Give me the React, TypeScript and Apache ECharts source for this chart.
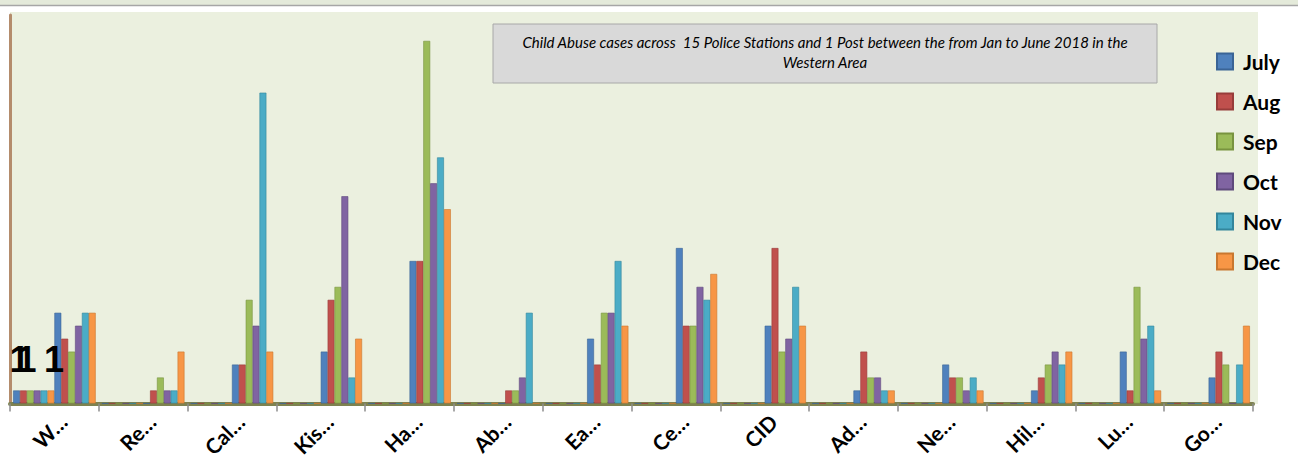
import React, { useEffect, useRef } from "react";
import * as echarts from "echarts";

const categories = ["W…", "Re…", "Cal…", "Kis…", "Ha…", "Ab…", "Ea…", "Ce…", "CID", "Ad…", "Ne…", "Hil…", "Lu…", "Go…"];
const legendNames = ["July", "Aug", "Sep", "Oct", "Nov", "Dec"];
const july = [7, 0, 3, 4, 11, 0, 5, 12, 6, 1, 3, 1, 4, 2];
const aug = [5, 1, 3, 8, 11, 1, 3, 6, 12, 4, 2, 2, 1, 4];
const sep = [4, 2, 8, 9, 28, 1, 7, 6, 4, 2, 2, 3, 9, 3];
const oct = [6, 1, 6, 16, 17, 2, 7, 9, 5, 2, 1, 4, 5, 0];
const nov = [7, 1, 24, 2, 19, 7, 11, 8, 9, 1, 2, 3, 6, 3];
const dec = [7, 4, 4, 5, 15, 0, 6, 10, 6, 1, 1, 4, 1, 6];
// earlier series (not in legend) only present in the first category
const hiddenNames = ["Jan", "Feb", "Mar", "Apr", "May", "Jun"];
const hiddenFirst = [1, 1, 1, 1, 1, 1];
const labeledHidden = [0, 1, 5];
const titleLines = [
  "Child Abuse cases across  15 Police Stations and 1 Post between the from Jan to June 2018 in the",
  "Western Area",
];
const colors = ["#4F81BD", "#C0504D", "#9BBB59", "#8064A2", "#4BACC6", "#F79646"];
const borders = ["#3A6496", "#983C3A", "#78933F", "#5F4A7C", "#33869C", "#C9772F"];

export default function App() {
  const ref = useRef<HTMLDivElement>(null);
  useEffect(() => {
    if (!ref.current) return;
    const chart = echarts.init(ref.current, undefined, { renderer: "svg" });
    const monthData = [july, aug, sep, oct, nov, dec];
    const series: any[] = [];
    hiddenNames.forEach((n, i) => {
      const data = categories.map((_, ci) => (ci === 0 ? hiddenFirst[i] : 0));
      series.push({
        name: n,
        type: "bar",
        data,
        barGap: "0%",
        barCategoryGap: "7%",
        itemStyle: { color: colors[i], borderColor: borders[i], borderWidth: 0.6 },
        label: {
          show: labeledHidden.includes(i),
          position: "top",
          distance: 13,
          offset: [3, 0],
          formatter: (p: any) => (p.dataIndex === 0 ? String(p.value) : ""),
          fontSize: 36,
          fontWeight: "bold",
          fontFamily: "Liberation Sans Narrow, Liberation Sans, sans-serif",
          color: "#000",
        },
      });
    });
    legendNames.forEach((n, i) => {
      series.push({
        name: n,
        type: "bar",
        data: monthData[i],
        barGap: "0%",
        barCategoryGap: "7%",
        itemStyle: { color: colors[i], borderColor: borders[i], borderWidth: 0.6 },
      });
    });
    chart.setOption({
      animation: false,
      color: colors,
      graphic: [
        { type: "rect", z: -10, shape: { x: 0, y: 0, width: 1298, height: 5 }, style: { fill: "#E4EADA" } },
        { type: "line", z: -10, shape: { x1: 0, y1: 5.5, x2: 1298, y2: 5.5 }, style: { stroke: "#A6A6A6", lineWidth: 1.5 } },
        { type: "rect", z: -10, shape: { x: 10, y: 12, width: 1248, height: 392 }, style: { fill: "#EBF0DF" } },
        {
          type: "rect",
          z: 10,
          shape: { x: 493, y: 24, width: 664, height: 59 },
          style: { fill: "#D9D9D9", stroke: "#A8A8A8", lineWidth: 1 },
        },
        {
          type: "text",
          z: 11,
          x: 825,
          y: 42,
          style: {
            text: titleLines[0],
            align: "center",
            verticalAlign: "middle",
            font: "italic 15px Lato, sans-serif",
            fill: "#000",
          },
        },
        {
          type: "text",
          z: 11,
          x: 825,
          y: 62,
          style: {
            text: titleLines[1],
            align: "center",
            verticalAlign: "middle",
            font: "italic 15px Lato, sans-serif",
            fill: "#000",
          },
        },
      ],
      legend: {
        data: legendNames,
        orient: "vertical",
        left: 1211,
        top: 46,
        icon: "rect",
        itemWidth: 16,
        itemHeight: 16,
        itemGap: 19,
        textStyle: {
          fontSize: 21,
          fontWeight: "bold",
          fontFamily: "Lato, sans-serif",
          color: "#000",
          padding: [0, 0, 0, 5],
        },
      },
      grid: { left: 10, right: 45, top: 15, bottom: 57 },
      xAxis: {
        type: "category",
        data: categories,
        axisLine: { show: true, lineStyle: { color: "#7E8250", width: 4 } },
        axisTick: { show: true, length: 8, lineStyle: { color: "#8C8C8C", width: 1.5 } },
        axisLabel: {
          rotate: 45,
          margin: 6,
          lineHeight: 24,
          formatter: (v: string) => "\n" + v,
          fontSize: 21,
          fontWeight: "bold",
          fontFamily: "Lato, sans-serif",
          color: "#000",
        },
      },
      yAxis: {
        type: "value",
        min: 0,
        max: 30,
        axisLine: { show: true, lineStyle: { color: "#B48C6C", width: 3 } },
        axisTick: { show: false },
        axisLabel: { show: false },
        splitLine: { show: false },
      },
      series,
    });
    return () => chart.dispose();
  }, []);
  return <div ref={ref} style={{ position: "absolute", left: 0, top: 0, width: 1298, height: 461 }} />;
}
